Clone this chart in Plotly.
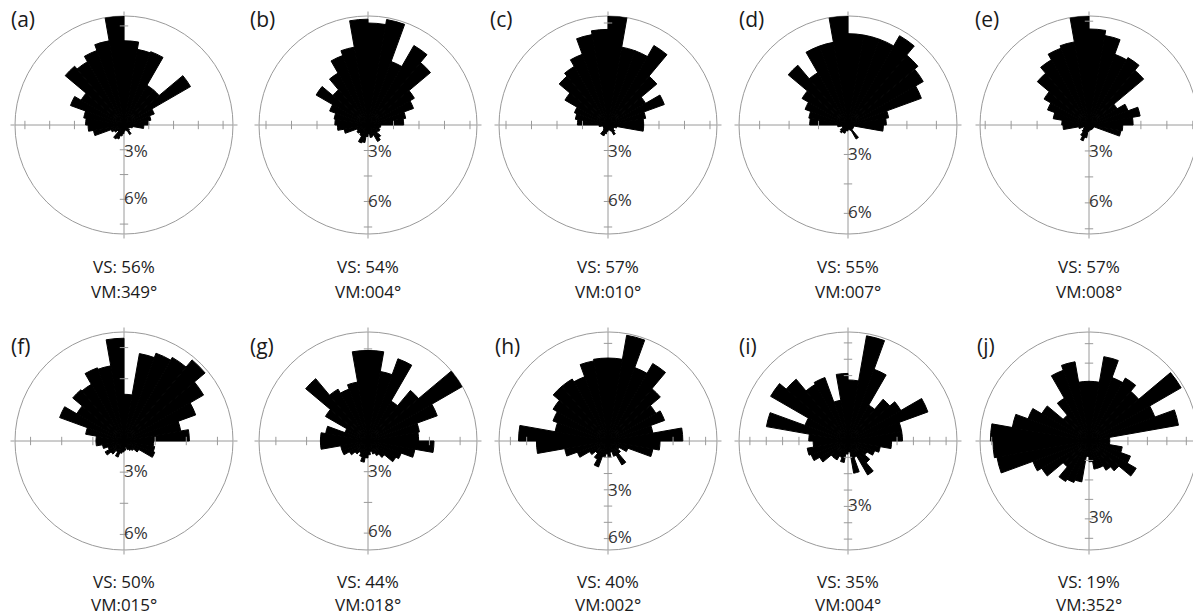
import plotly.graph_objects as go

# ---------------- data ----------------
panel_letters = ["(a)", "(b)", "(c)", "(d)", "(e)", "(f)", "(g)", "(h)", "(i)", "(j)"]
vs_values = ["56%", "54%", "57%", "55%", "57%", "50%", "44%", "40%", "35%", "19%"]
vm_values = ["349°", "004°", "010°", "007°", "008°", "015°", "018°", "002°", "004°", "352°"]

# 10-degree bins, centres 5..355 (clockwise from north)
bin_centers = list(range(5, 360, 10))

freq_a = [6.8, 6.2, 6.3, 3.7, 3.7, 6.2, 2.6, 2.2, 2.0, 1.6, 0.7, 0.5, 0.4, 0.6, 0.9, 0.5, 0.4, 0.5,
          0.7, 0.9, 1.2, 1.3, 0.7, 0.9, 1.1, 2.5, 2.9, 3.1, 3.3, 4.6, 4.0, 6.2, 5.9, 6.4, 6.9, 8.8]
freq_b = [8.0, 8.4, 5.3, 7.2, 6.4, 4.2, 3.8, 3.0, 2.8, 1.0, 0.9, 1.0, 0.9, 1.3, 1.5, 0.9, 1.0, 0.7,
          0.9, 1.4, 1.5, 1.0, 0.9, 1.0, 0.9, 1.9, 2.4, 2.6, 2.7, 3.2, 4.7, 3.6, 4.7, 5.8, 6.2, 8.3]
freq_c = [8.6, 6.2, 6.2, 7.2, 5.0, 3.4, 4.7, 3.0, 2.8, 2.8, 0.7, 0.5, 0.5, 0.7, 0.9, 0.5, 0.4, 0.4,
          0.5, 0.7, 0.9, 0.9, 0.5, 0.4, 0.4, 0.4, 0.7, 2.4, 2.6, 2.8, 3.9, 5.0, 5.3, 5.9, 7.2, 7.5]
freq_d = [6.2, 6.2, 6.2, 7.0, 6.2, 5.9, 5.3, 2.8, 2.6, 2.4, 0.4, 0.4, 0.4, 0.4, 1.1, 0.4, 0.3, 0.3,
          0.4, 0.4, 0.6, 0.6, 0.7, 0.6, 0.4, 0.4, 0.7, 2.6, 2.7, 3.1, 3.6, 5.3, 4.1, 5.7, 5.7, 7.4]
freq_e = [7.4, 7.0, 5.8, 6.0, 5.5, 2.5, 3.2, 4.0, 3.4, 2.6, 2.5, 0.4, 0.4, 0.4, 0.4, 0.4, 0.4, 0.4,
          0.5, 1.0, 1.3, 1.0, 0.7, 0.5, 0.4, 0.8, 2.0, 2.1, 2.8, 3.4, 4.0, 5.2, 5.8, 6.3, 6.5, 8.4]
freq_f = [3.0, 5.7, 6.0, 6.2, 6.8, 5.9, 4.9, 3.7, 4.2, 1.9, 2.0, 2.1, 1.1, 0.8, 0.7, 0.6, 0.4, 0.6,
          0.7, 0.8, 1.1, 0.8, 1.1, 1.4, 1.1, 1.4, 1.8, 1.8, 2.5, 4.4, 3.5, 4.3, 4.2, 5.0, 4.9, 6.6]
freq_g = [5.9, 4.6, 5.7, 3.0, 4.3, 7.1, 4.8, 3.4, 3.3, 4.3, 3.1, 2.3, 2.1, 1.4, 1.1, 0.9, 0.7, 0.9,
          1.1, 1.4, 1.1, 0.9, 1.1, 1.4, 1.8, 1.8, 3.1, 3.1, 2.8, 1.6, 3.2, 5.3, 3.9, 3.6, 3.9, 5.9]
freq_h = [5.1, 6.6, 4.8, 5.5, 4.2, 3.4, 3.7, 2.8, 4.6, 3.2, 2.8, 1.3, 0.8, 1.0, 1.7, 1.0, 0.7, 1.0,
          0.8, 1.0, 1.7, 1.3, 1.0, 1.3, 2.0, 2.7, 4.4, 5.5, 3.3, 3.6, 3.9, 4.4, 4.4, 4.2, 5.0, 5.1]
freq_i = [2.8, 4.9, 3.5, 1.9, 2.5, 2.8, 3.9, 2.5, 2.5, 2.0, 1.5, 1.3, 1.0, 1.3, 1.8, 0.8, 1.5, 0.5,
          0.6, 1.0, 0.8, 1.0, 1.0, 1.5, 1.8, 1.9, 1.6, 1.8, 3.8, 2.1, 4.1, 3.7, 3.0, 3.1, 1.9, 3.1]
freq_j = [2.3, 3.3, 2.6, 2.8, 2.5, 4.1, 2.7, 3.5, 0.8, 0.8, 1.3, 1.7, 2.1, 1.5, 1.3, 1.1, 1.1, 0.8,
          0.6, 1.6, 1.7, 1.8, 1.3, 2.1, 2.3, 3.6, 3.7, 3.8, 3.0, 2.5, 2.1, 1.3, 1.9, 2.9, 3.1, 2.3]
freqs = [freq_a, freq_b, freq_c, freq_d, freq_e, freq_f, freq_g, freq_h, freq_i, freq_j]

# radial scale of each diagram (% at the outer circle) and tick spacing (%)
scale_max = [8.8, 8.55, 8.55, 7.4, 8.4, 7.0, 7.1, 6.7, 5.0, 4.2]
tick_step = [2, 2, 2, 2, 2, 2, 2, 1, 0.75, 0.75]
pct_labels = [["3%", "6%"]] * 8 + [["3%"], ["3%"]]
pct_label_r = [[2.25, 6.0], [2.2, 6.1], [2.2, 6.0], [2.1, 6.0], [2.1, 6.0],
               [2.05, 6.0], [2.1, 6.0], [3.1, 6.0], [3.0], [3.0]]

# ---------------- layout geometry ----------------
W, H = 1200, 616
R = 109
centers_x = [124, 368, 608, 848, 1089] * 2
centers_y = [125] * 5 + [441] * 5
letter_x = [9, 248, 488, 737, 973, 9, 248, 493, 737, 975]
letter_y = [19] * 5 + [346] * 5
vs_y = [266] * 5 + [581] * 5
vm_y = [291] * 5 + [604] * 5

GRAY = "#9a9a9a"
FONT = "Open Sans"

fig = go.Figure()
annotations = []

for i in range(10):
    key = "polar" if i == 0 else f"polar{i + 1}"
    sub = "polar" if i == 0 else f"polar{i + 1}"
    cx, cy = centers_x[i], centers_y[i]
    fr = freqs[i]
    rmax = scale_max[i]

    # bars
    fig.add_trace(go.Barpolar(
        r=fr, theta=bin_centers, width=10,
        marker=dict(color="black", line=dict(color="black", width=1.0)),
        subplot=sub, showlegend=False, hoverinfo="skip"))

    # tick marks on the cross-hair (hidden where covered by bars)
    for d in (0, 90, 180, 270):
        left = ((d - 10) % 360) // 10
        right = d // 10
        rs = []
        k = 1
        while k * tick_step[i] < rmax * 0.995:
            rv = k * tick_step[i]
            if not (fr[left] >= rv and fr[right] >= rv):
                rs.append(rv)
            k += 1
        if rs:
            fig.add_trace(go.Scatterpolar(
                r=rs, theta=[d] * len(rs), mode="markers",
                marker=dict(symbol="line-ew" if d in (0, 180) else "line-ns",
                            size=6, line=dict(color=GRAY, width=1)),
                subplot=sub, showlegend=False, hoverinfo="skip"))

    # percentage labels on the south axis
    fig.add_trace(go.Scatterpolar(
        r=pct_label_r[i], theta=[180] * len(pct_label_r[i]), mode="text",
        text=pct_labels[i], textposition="middle right",
        textfont=dict(family=FONT, size=17, color="#333333"),
        subplot=sub, showlegend=False, hoverinfo="skip", cliponaxis=False))

    fig.update_layout(**{key: dict(
        domain=dict(x=[(cx - R) / W, (cx + R) / W], y=[1 - (cy + R) / H, 1 - (cy - R) / H]),
        bgcolor="white", bargap=0, hole=0,
        radialaxis=dict(visible=False, range=[0, rmax]),
        angularaxis=dict(rotation=90, direction="clockwise", showline=True, linecolor=GRAY,
                         linewidth=1, showgrid=True, gridcolor=GRAY, gridwidth=1,
                         tickmode="array", tickvals=[0, 90, 180, 270], ticks="outside",
                         ticklen=4, tickcolor=GRAY, showticklabels=False,
                         layer="below traces"),
    )})

    annotations.append(dict(text=panel_letters[i], x=letter_x[i] / W, y=1 - letter_y[i] / H,
                            xref="paper", yref="paper", xanchor="left", yanchor="middle",
                            showarrow=False, font=dict(family=FONT, size=21, color="#1a1a1a")))
    annotations.append(dict(text="VS: " + vs_values[i], x=cx / W, y=1 - vs_y[i] / H,
                            xref="paper", yref="paper", xanchor="center", yanchor="middle",
                            showarrow=False, font=dict(family=FONT, size=17, color="#1a1a1a")))
    annotations.append(dict(text="VM:" + vm_values[i], x=cx / W, y=1 - vm_y[i] / H,
                            xref="paper", yref="paper", xanchor="center", yanchor="middle",
                            showarrow=False, font=dict(family=FONT, size=17, color="#1a1a1a")))

fig.update_layout(width=W, height=H, autosize=False,
                  margin=dict(l=0, r=0, t=0, b=0),
                  paper_bgcolor="white", plot_bgcolor="white",
                  annotations=annotations, showlegend=False)

fig.write_html("out.html", include_plotlyjs=True,
               config={"displayModeBar": False},
               post_script="document.body.style.margin='0';document.body.style.overflow='hidden';")
